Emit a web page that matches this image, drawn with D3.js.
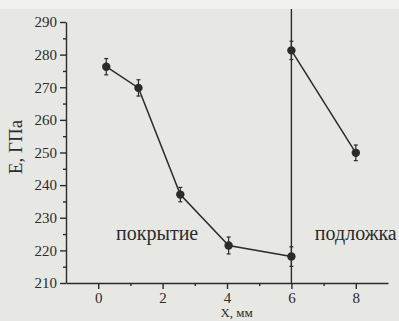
<!DOCTYPE html>
<html>
<head>
<meta charset="utf-8">
<script src="https://cdn.jsdelivr.net/npm/d3@7"></script>
<style>
  body { margin: 0; background: #e7e7e4; }
  svg { display: block; }
  svg text { font-family: "Liberation Serif", "Times New Roman", "DejaVu Serif", serif; fill: #2b2b2b; }
</style>
</head>
<body>
<div id="chart"></div>
<script>
// values
var coatingX = [0.25, 1.25, 2.55, 4.05, 6.0],
    coatingE = [276.3, 269.8, 237.1, 221.5, 218.1],
    coatingErr = [2.5, 2.5, 2.2, 2.6, 3.0];
var substrateX = [6.0, 8.0],
    substrateE = [281.3, 249.9],
    substrateErr = [2.8, 2.4];
var boundaryX = 6;
var xTicks = [0, 2, 4, 6, 8],
    xMinor = [1, 3, 5, 7],
    yTicks = [210, 220, 230, 240, 250, 260, 270, 280, 290],
    yMinor = [215, 225, 235, 245, 255, 265, 275, 285];

var serif = '"Liberation Serif", "Times New Roman", "DejaVu Serif", serif';

var W = 399, H = 321,
    margin = {top: 22, right: 11, bottom: 38, left: 66},
    width = W - margin.left - margin.right,
    height = H - margin.top - margin.bottom;

var svg = d3.select("#chart").append("svg")
    .attr("width", W)
    .attr("height", H);

// lighter strip at the top edge of the scan
svg.append("rect").attr("width", W).attr("height", 9).attr("fill", "#f1f1ef");

var g = svg.append("g")
    .attr("transform", "translate(" + margin.left + "," + margin.top + ")");

var x = d3.scaleLinear().domain([-1, 9]).range([0, width]);
var y = d3.scaleLinear().domain([210, 290]).range([height, 0]);

var ink = "#2b2b2b";

// axes
g.append("g")
    .attr("transform", "translate(0," + height + ")")
    .call(d3.axisBottom(x).tickValues(xTicks).tickSize(6).tickSizeOuter(0).tickPadding(3).tickFormat(d3.format("d")));
g.append("g")
    .attr("transform", "translate(0," + height + ")")
    .call(d3.axisBottom(x).tickValues(xMinor).tickSize(3).tickSizeOuter(0).tickFormat(""))
    .select(".domain").remove();

g.append("g")
    .call(d3.axisLeft(y).tickValues(yTicks).tickSize(6).tickSizeOuter(0).tickPadding(3));
g.append("g")
    .call(d3.axisLeft(y).tickValues(yMinor).tickSize(3).tickSizeOuter(0).tickFormat(""))
    .select(".domain").remove();

g.selectAll(".domain, .tick line").attr("stroke", ink).attr("stroke-width", 1.4);
g.selectAll("g").attr("font-family", serif);
g.selectAll(".tick text")
    .attr("fill", ink)
    .style("font-family", serif)
    .style("font-size", "15px");

// boundary between coating and substrate
g.append("line")
    .attr("x1", x(boundaryX)).attr("x2", x(boundaryX))
    .attr("y1", -13).attr("y2", height)
    .attr("stroke", ink).attr("stroke-width", 1.4);

function drawSeries(xs, es, errs) {
    var pts = xs.map(function(d, i) { return {x: d, e: es[i], err: errs[i]}; });
    g.append("path")
        .datum(pts)
        .attr("fill", "none")
        .attr("stroke", ink)
        .attr("stroke-width", 1.5)
        .attr("d", d3.line().x(function(d) { return x(d.x); }).y(function(d) { return y(d.e); }));
    var grp = g.append("g").selectAll("g").data(pts).enter().append("g");
    grp.append("line")
        .attr("x1", function(d) { return x(d.x); })
        .attr("x2", function(d) { return x(d.x); })
        .attr("y1", function(d) { return y(d.e + d.err); })
        .attr("y2", function(d) { return y(d.e - d.err); })
        .attr("stroke", ink).attr("stroke-width", 1.2);
    [1, -1].forEach(function(s) {
        grp.append("line")
            .attr("x1", function(d) { return x(d.x) - 2; })
            .attr("x2", function(d) { return x(d.x) + 2; })
            .attr("y1", function(d) { return y(d.e + s * d.err); })
            .attr("y2", function(d) { return y(d.e + s * d.err); })
            .attr("stroke", ink).attr("stroke-width", 1.2);
    });
    grp.append("circle")
        .attr("cx", function(d) { return x(d.x); })
        .attr("cy", function(d) { return y(d.e); })
        .attr("r", 4.2)
        .attr("fill", ink);
}
drawSeries(coatingX, coatingE, coatingErr);
drawSeries(substrateX, substrateE, substrateErr);

// region labels
g.append("text")
    .attr("x", x(1.83)).attr("y", y(223.2))
    .attr("text-anchor", "middle")
    .style("font-family", serif)
    .style("font-size", "20px")
    .text("покрытие");
g.append("text")
    .attr("x", x(8.0)).attr("y", y(223.2))
    .attr("text-anchor", "middle")
    .style("font-family", serif)
    .style("font-size", "20px")
    .text("подложка");

// axis titles
svg.append("text")
    .attr("transform", "translate(22,147) rotate(-90)")
    .attr("text-anchor", "middle")
    .style("font-family", serif)
    .style("font-size", "19px")
    .text("E, ГПа");
svg.append("text")
    .attr("x", margin.left + x(4.3)).attr("y", 317)
    .attr("text-anchor", "middle")
    .style("font-family", serif)
    .style("font-size", "13px")
    .text("X, мм");
</script>
</body>
</html>
